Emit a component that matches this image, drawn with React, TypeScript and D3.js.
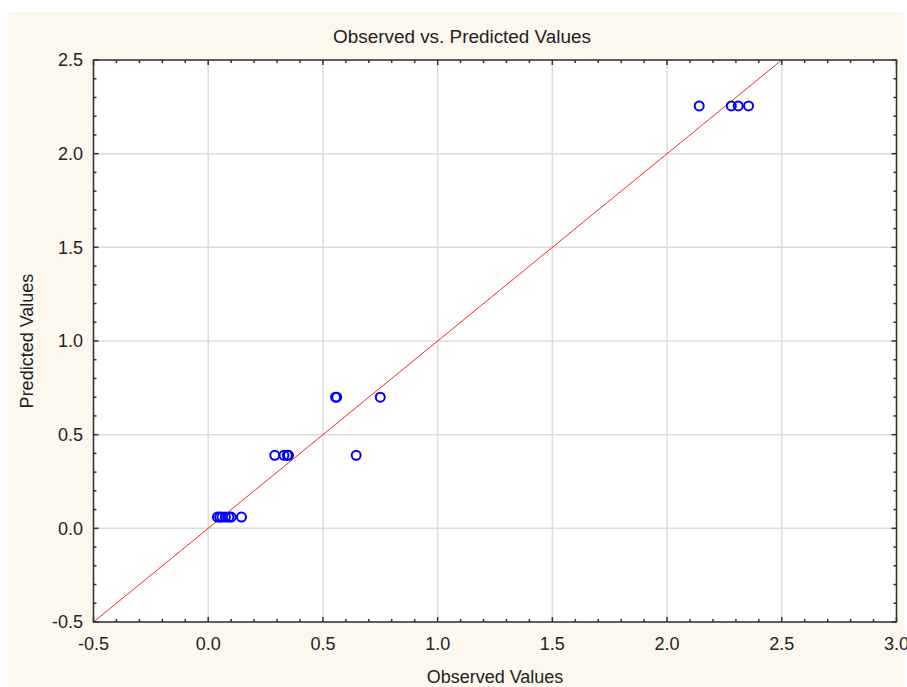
import React from "react";
import * as d3 from "d3";

// Observed vs. predicted pairs
const observed = [
  0.04, 0.05, 0.06, 0.075, 0.09, 0.1, 0.145,
  0.29, 0.33, 0.345, 0.35, 0.645,
  0.555, 0.56, 0.75,
  2.14, 2.28, 2.31, 2.355,
];
const predicted = [
  0.06, 0.06, 0.06, 0.06, 0.06, 0.06, 0.06,
  0.39, 0.39, 0.39, 0.39, 0.39,
  0.7, 0.7, 0.7,
  2.255, 2.255, 2.255, 2.255,
];
const xTicks = [-0.5, 0, 0.5, 1.0, 1.5, 2.0, 2.5, 3.0];
const yTicks = [-0.5, 0, 0.5, 1.0, 1.5, 2.0, 2.5];

const W = 907;
const H = 687;
const left = 93.5;
const right = 896.5;
const top = 60;
const bottom = 622;
const FONT = "'Liberation Sans', Arial, sans-serif";

// one decimal, plain hyphen for negatives
const fmt = (v: number) => d3.format(".1f")(v).replace("\u2212", "-");

export default function App() {
  const x = d3.scaleLinear().domain([-0.5, 3.0]).range([left, right]);
  const y = d3.scaleLinear().domain([-0.5, 2.5]).range([bottom, top]);
  const minorX = d3.range(-5, 31).map((i) => i / 10);
  const minorY = d3.range(-5, 26).map((i) => i / 10);
  const isMajor = (v: number) => Math.abs(v * 2 - Math.round(v * 2)) < 1e-6;

  return (
    <svg
      width={W}
      height={H}
      style={{ position: "absolute", left: 0, top: 0, display: "block" }}
    >
      <rect x={0} y={0} width={W} height={H} fill="#ffffff" />
      <rect x={8} y={12} width={896} height={H - 12} fill="#fdf8ee" />
      <rect x={left} y={top} width={right - left} height={bottom - top} fill="#ffffff" />

      <defs>
        <clipPath id="plot-clip">
          <rect x={left} y={top} width={right - left} height={bottom - top} />
        </clipPath>
      </defs>

      {/* grid */}
      {xTicks.map((t) => (
        <line key={"gx" + t} x1={x(t)} x2={x(t)} y1={top} y2={bottom} stroke="#dcdcdc" strokeWidth={1.5} />
      ))}
      {yTicks.map((t) => (
        <line key={"gy" + t} x1={left} x2={right} y1={y(t)} y2={y(t)} stroke="#dcdcdc" strokeWidth={1.5} />
      ))}

      {/* identity line */}
      <g clipPath="url(#plot-clip)">
        <line
          x1={x(-0.5)}
          y1={y(-0.5)}
          x2={x(3.0)}
          y2={y(3.0)}
          stroke="#ff0000"
          strokeWidth={1}
          opacity={0.85}
        />
      </g>

      {/* points */}
      {observed.map((o, i) => (
        <circle
          key={"p" + i}
          cx={x(o)}
          cy={y(predicted[i])}
          r={4.5}
          fill="none"
          stroke="#0000ff"
          strokeWidth={2}
        />
      ))}

      {/* ticks (inside, all four sides) */}
      {minorX.map((t) => {
        const len = isMajor(t) ? 5 : 3;
        return (
          <g key={"tx" + t}>
            <line x1={x(t)} x2={x(t)} y1={bottom} y2={bottom - len} stroke="#333" strokeWidth={1.5} />
            <line x1={x(t)} x2={x(t)} y1={top} y2={top + len} stroke="#333" strokeWidth={1.5} />
          </g>
        );
      })}
      {minorY.map((t) => {
        const len = isMajor(t) ? 5 : 3;
        return (
          <g key={"ty" + t}>
            <line x1={left} x2={left + len} y1={y(t)} y2={y(t)} stroke="#333" strokeWidth={1.5} />
            <line x1={right} x2={right - len} y1={y(t)} y2={y(t)} stroke="#333" strokeWidth={1.5} />
          </g>
        );
      })}

      {/* frame */}
      <rect
        x={left}
        y={top}
        width={right - left}
        height={bottom - top}
        fill="none"
        stroke="#333"
        strokeWidth={1.5}
      />

      {/* tick labels */}
      {xTicks.map((t) => (
        <text
          key={"lx" + t}
          x={x(t)}
          y={650}
          textAnchor="middle"
          fontFamily={FONT}
          fontSize={18}
          fill="#222"
        >
          {fmt(t)}
        </text>
      ))}
      {yTicks.map((t) => (
        <text
          key={"ly" + t}
          x={83}
          y={y(t)}
          dy="0.36em"
          textAnchor="end"
          fontFamily={FONT}
          fontSize={18}
          fill="#222"
        >
          {fmt(t)}
        </text>
      ))}

      {/* titles */}
      <text
        x={462}
        y={43}
        textAnchor="middle"
        fontFamily={FONT}
        fontSize={18}
        fill="#222"
        textLength={258}
        lengthAdjust="spacingAndGlyphs"
      >
        Observed vs. Predicted Values
      </text>
      <text
        x={(left + right) / 2}
        y={683}
        textAnchor="middle"
        fontFamily={FONT}
        fontSize={18}
        fill="#222"
      >
        Observed Values
      </text>
      <text
        transform={`translate(33, ${(top + bottom) / 2}) rotate(-90)`}
        textAnchor="middle"
        fontFamily={FONT}
        fontSize={18}
        fill="#222"
      >
        Predicted Values
      </text>
    </svg>
  );
}
